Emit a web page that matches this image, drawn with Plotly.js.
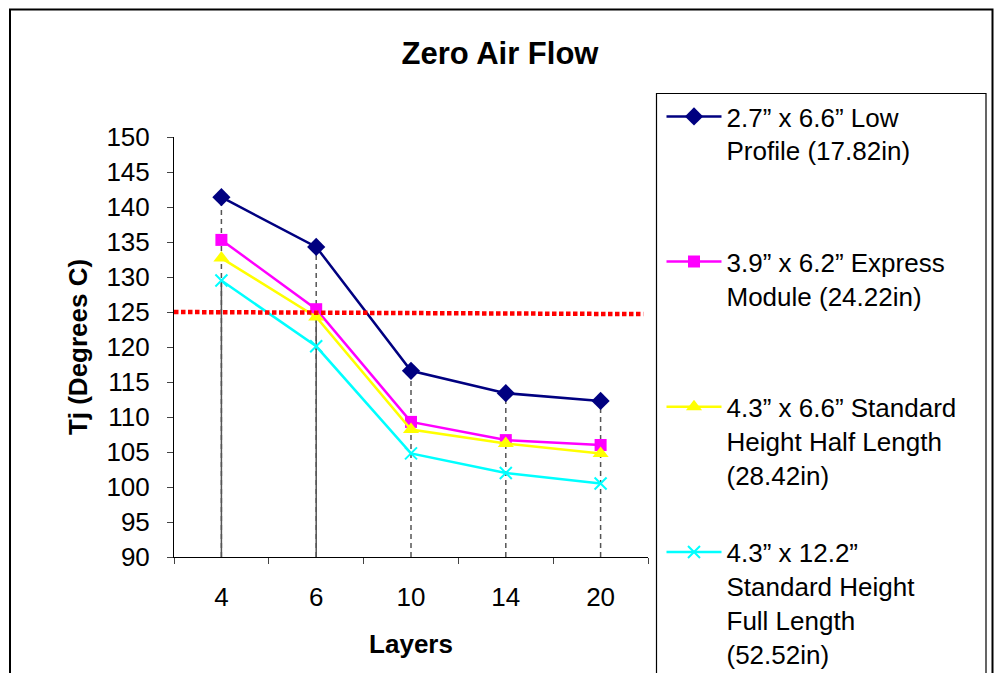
<!DOCTYPE html>
<html>
<head>
<meta charset="utf-8">
<script src="https://cdn.plot.ly/plotly-3.0.1.min.js"></script>
<style>html,body{margin:0;padding:0;background:#fff;overflow:hidden;}#chart{width:995px;height:690px;}</style>
</head>
<body>
<div id="chart"></div>
<script>
// ---- data ----
var layers = ["4", "6", "10", "14", "20"];
var lowProfile = [141.4, 134.3, 116.6, 113.4, 112.3];
var expressModule = [135.3, 125.4, 109.3, 106.7, 106.0];
var stdHalfLength = [132.7, 124.3, 108.2, 106.2, 104.8];
var stdFullLength = [129.5, 120.1, 104.8, 102.0, 100.5];
var thresholdX = [-0.5, 4.45];
var thresholdY = [125.0, 124.7];
var solidDropTop = [129.5, 124.3, null, null, null];
var seriesNames = [
  "2.7\u201D x 6.6\u201D Low<br>Profile (17.82in)",
  "3.9\u201D x 6.2\u201D Express<br>Module (24.22in)",
  "4.3\u201D x 6.6\u201D Standard<br>Height Half Length<br>(28.42in)",
  "4.3\u201D x 12.2\u201D<br>Standard Height<br>Full Length<br>(52.52in)"
];

var FONT = "Liberation Sans, Arial, sans-serif";
var H = 690; // figure drawn slightly taller than the window; bottom is cut off like the reference
var idx = layers.map(function(_, i){ return i; });
var allSeries = [lowProfile, expressModule, stdHalfLength, stdFullLength];
var colors = ["#000080", "#FF00FF", "#FFFF00", "#00FFFF"];
var symbols = ["diamond", "square", "triangle-up", "x-thin"];
var sizes = [14, 12, 14, 12];

function padLines(s) {
  var n = s.split("<br>").length;
  for (var k = n; k < 4; k++) s += "<br>\u00A0";
  return s;
}

var traces = allSeries.map(function(vals, k) {
  return {
    x: idx, y: vals, type: "scatter", mode: "lines+markers",
    name: padLines(seriesNames[k]), legendgroup: "g" + k,
    line: {color: colors[k], width: 2.5},
    marker: {symbol: symbols[k], size: sizes[k], color: colors[k],
             line: {color: colors[k], width: symbols[k] === "x-thin" ? 2 : 0}},
    hoverinfo: "skip"
  };
});
traces.push({
  x: thresholdX, y: thresholdY, type: "scatter", mode: "lines",
  xaxis: "x2", yaxis: "y", showlegend: false,
  line: {color: "#FF0000", width: 4.5, dash: "4.5px,2.5px"}, hoverinfo: "skip"
});

// layout geometry (pixels)
var L = 174, R = 648, T = 137, B = 557;
function px(x){ return (x - L) / (R - L); }
function py(y){ return (B - y) / (B - T); }

var shapes = [];
idx.forEach(function(i) {
  var top = Math.max(lowProfile[i], expressModule[i], stdHalfLength[i], stdFullLength[i]);
  shapes.push({type: "line", xref: "x", yref: "y", x0: i, x1: i, y0: 90, y1: top,
               line: {color: "#555555", width: 1.5, dash: "5px,4px"}, layer: "below"});
  if (solidDropTop[i] !== null) {
    shapes.push({type: "line", xref: "x", yref: "y", x0: i, x1: i, y0: 90, y1: solidDropTop[i],
                 line: {color: "#555555", width: 1.5}, layer: "below"});
  }
});
// legend frame
shapes.push({type: "rect", xref: "paper", yref: "paper",
  x0: px(656.5), x1: px(986), y0: py(720), y1: py(93.5),
  line: {color: "#000", width: 1.2}, fillcolor: "rgba(0,0,0,0)"});
// outer chart frame
shapes.push({type: "rect", xref: "paper", yref: "paper",
  x0: px(10), x1: px(992.5), y0: py(720), y1: py(9.5),
  line: {color: "#000", width: 2}, fillcolor: "rgba(0,0,0,0)"});

var layout = {
  width: 995, height: H,
  margin: {l: L, r: 995 - R, t: T, b: H - B, pad: 0},
  paper_bgcolor: "#fff", plot_bgcolor: "#fff",
  font: {family: FONT, color: "#000", size: 26},
  title: {text: "<b>Zero Air Flow</b>", font: {family: FONT, size: 31, color: "#000"},
          x: 500/995, xanchor: "center", y: 1 - 53/H, yanchor: "middle"},
  xaxis: {type: "linear", range: [-0.5, 4.5], tickvals: idx, ticktext: layers,
          ticks: "", showgrid: false, zeroline: false, showline: true, linecolor: "#000", linewidth: 1,
          tickfont: {family: FONT, size: 26}, ticklabelstandoff: 17,
          title: {text: "<b>Layers</b>", font: {family: FONT, size: 26}, standoff: 23}, fixedrange: true},
  xaxis2: {type: "linear", range: [-0.5, 4.5], overlaying: "x", anchor: "y", side: "bottom",
           tickvals: [-0.5, 0.5, 1.5, 2.5, 3.5, 4.5], ticks: "outside", ticklen: 6, tickcolor: "#444",
           showticklabels: false, showgrid: false, zeroline: false, showline: false, fixedrange: true},
  yaxis: {range: [90, 150], tickvals: [90,95,100,105,110,115,120,125,130,135,140,145,150],
          ticks: "outside", ticklen: 6, tickcolor: "#444", showgrid: false, zeroline: false,
          showline: true, linecolor: "#000", linewidth: 1,
          tickfont: {family: FONT, size: 26}, ticklabelstandoff: 12,
          title: {text: "<b>Tj (Degrees C)</b>", font: {family: FONT, size: 26}, standoff: 11}, fixedrange: true},
  legend: {x: px(661.5), xanchor: "left", y: py(93), yanchor: "top",
           bgcolor: "rgba(0,0,0,0)", borderwidth: 0, traceorder: "grouped",
           tracegroupgap: 7, valign: "top", itemwidth: 55, maxheight: 3000,
           font: {family: FONT, size: 26, color: "#000"}},
  shapes: shapes,
  showlegend: true
};

Plotly.newPlot("chart", traces, layout, {displayModeBar: false, staticPlot: true});
</script>
</body>
</html>
